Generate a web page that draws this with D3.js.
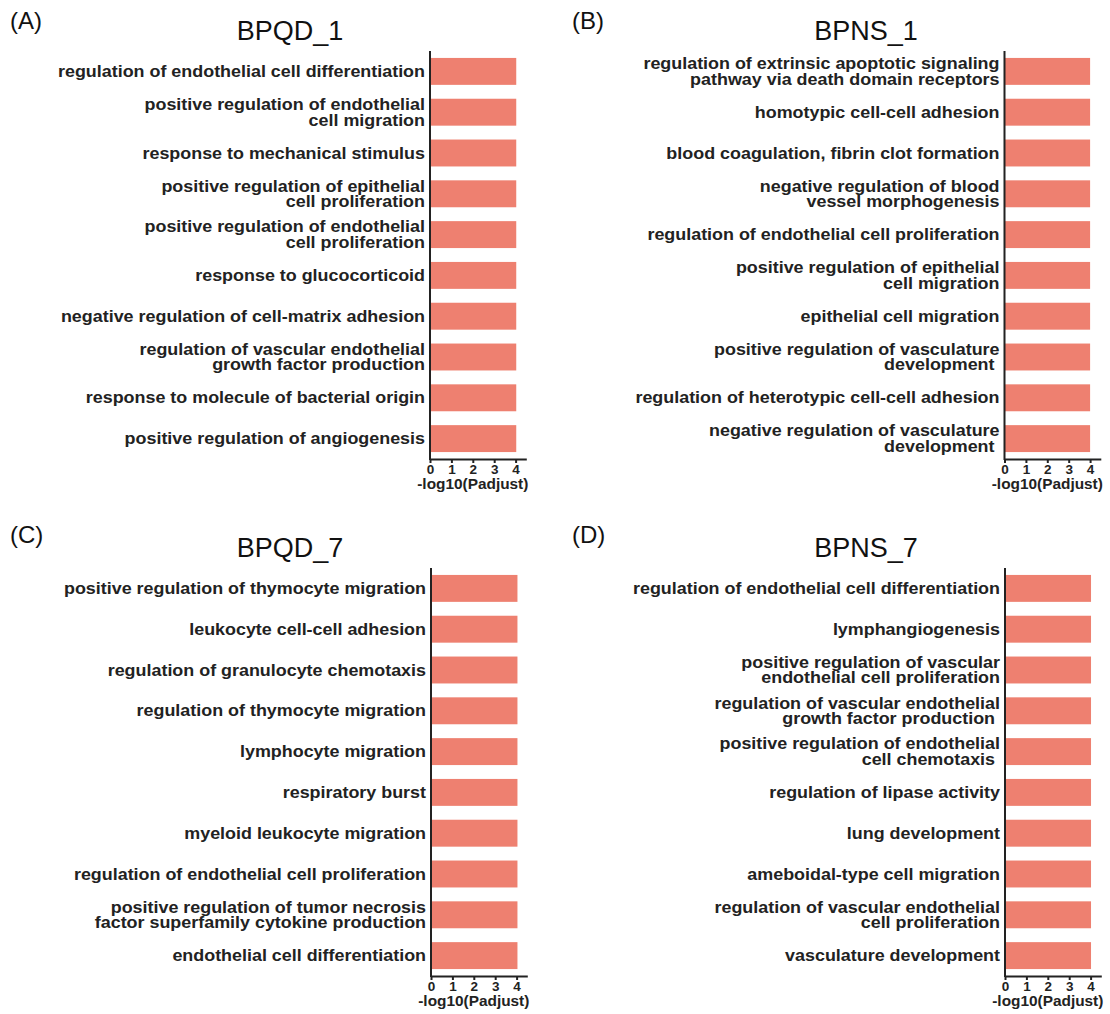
<!DOCTYPE html>
<html>
<head>
<meta charset="utf-8">
<script src="https://cdn.jsdelivr.net/npm/d3@7/dist/d3.min.js"></script>
<style>
  html, body { margin: 0; padding: 0; background: #fff; }
  svg { display: block; }
</style>
</head>
<body>
<svg id="chart" width="1110" height="1014"></svg>
<script>
// GO enrichment terms per cluster (top to bottom), "\n" marks a line break
const termsBPQD1 = [
  "regulation of endothelial cell differentiation",
  "positive regulation of endothelial\ncell migration",
  "response to mechanical stimulus",
  "positive regulation of epithelial\ncell proliferation",
  "positive regulation of endothelial\ncell proliferation",
  "response to glucocorticoid",
  "negative regulation of cell-matrix adhesion",
  "regulation of vascular endothelial\ngrowth factor production",
  "response to molecule of bacterial origin",
  "positive regulation of angiogenesis"
];
const termsBPNS1 = [
  "regulation of extrinsic apoptotic signaling\npathway via death domain receptors",
  "homotypic cell-cell adhesion",
  "blood coagulation, fibrin clot formation",
  "negative regulation of blood\nvessel morphogenesis",
  "regulation of endothelial cell proliferation",
  "positive regulation of epithelial\ncell migration",
  "epithelial cell migration",
  "positive regulation of vasculature\ndevelopment\u00a0",
  "regulation of heterotypic cell-cell adhesion",
  "negative regulation of vasculature\ndevelopment\u00a0"
];
const termsBPQD7 = [
  "positive regulation of thymocyte migration",
  "leukocyte cell-cell adhesion",
  "regulation of granulocyte chemotaxis",
  "regulation of thymocyte migration",
  "lymphocyte migration",
  "respiratory burst",
  "myeloid leukocyte migration",
  "regulation of endothelial cell proliferation",
  "positive regulation of tumor necrosis\nfactor superfamily cytokine production",
  "endothelial cell differentiation"
];
const termsBPNS7 = [
  "regulation of endothelial cell differentiation",
  "lymphangiogenesis",
  "positive regulation of vascular\nendothelial cell proliferation",
  "regulation of vascular endothelial\ngrowth factor production\u00a0",
  "positive regulation of endothelial\ncell chemotaxis\u00a0",
  "regulation of lipase activity",
  "lung development",
  "ameboidal-type cell migration",
  "regulation of vascular endothelial\ncell proliferation",
  "vasculature development"
];

// -log10(adjusted p) for each term, same order as above
const valuesBPQD1 = [4.03, 4.03, 4.03, 4.03, 4.03, 4.03, 4.03, 4.03, 4.03, 4.03];
const valuesBPNS1 = [4.0, 4.0, 4.0, 4.0, 4.0, 4.0, 4.0, 4.0, 4.0, 4.0];
const valuesBPQD7 = [4.04, 4.04, 4.04, 4.04, 4.04, 4.04, 4.04, 4.04, 4.04, 4.04];
const valuesBPNS7 = [4.02, 4.02, 4.02, 4.02, 4.02, 4.02, 4.02, 4.02, 4.02, 4.02];

const xTicks = [0, 1, 2, 3, 4];
const xDomain = [0, 4.5];
const xAxisTitle = "-log10(Padjust)";

const panelTags = ["(A)", "(B)", "(C)", "(D)"];
const panelTitles = ["BPQD_1", "BPNS_1", "BPQD_7", "BPNS_7"];

// ---- drawing ----
const BAR_COLOR = "#ee8070";
const INK = "#222";
const FONT = "'Liberation Sans', Arial, Helvetica, sans-serif";
const STRETCH = 1.12;   // bold term labels are set a little wide

const svg = d3.select("#chart");

const panels = [
  { tag: panelTags[0], title: panelTitles[0], terms: termsBPQD1, values: valuesBPQD1,
    x0: 430, top: 51, bottom: 459, tagX: 10, tagY: 29, titleX: 290, titleY: 40 },
  { tag: panelTags[1], title: panelTitles[1], terms: termsBPNS1, values: valuesBPNS1,
    x0: 1004.5, top: 51, bottom: 459, tagX: 572, tagY: 29, titleX: 866, titleY: 40 },
  { tag: panelTags[2], title: panelTitles[2], terms: termsBPQD7, values: valuesBPQD7,
    x0: 431, top: 568, bottom: 976, tagX: 10, tagY: 543, titleX: 290, titleY: 557 },
  { tag: panelTags[3], title: panelTitles[3], terms: termsBPNS7, values: valuesBPNS7,
    x0: 1005, top: 568, bottom: 976, tagX: 572, tagY: 543, titleX: 866, titleY: 557 }
];

const UNIT = 21.4; // px per unit of -log10(Padjust)

panels.forEach(p => {
  const g = svg.append("g");

  // panel tag and title
  g.append("text")
    .attr("x", p.tagX).attr("y", p.tagY)
    .attr("font-family", FONT).attr("font-size", 24)
    .attr("fill", "#111")
    .text(p.tag);
  g.append("text")
    .attr("x", p.titleX).attr("y", p.titleY)
    .attr("text-anchor", "middle")
    .attr("font-family", FONT).attr("font-size", 27)
    .attr("fill", "#111")
    .text(p.title);

  const x = d3.scaleLinear().domain(xDomain).range([p.x0, p.x0 + UNIT * xDomain[1]]);
  const y = d3.scaleBand().domain(p.terms).range([p.top, p.bottom])
    .paddingInner(0.34).paddingOuter(0.17);

  // bars
  g.selectAll("rect.bar")
    .data(p.terms.map((t, i) => ({ term: t, value: p.values[i] })))
    .join("rect")
    .attr("class", "bar")
    .attr("x", x(0))
    .attr("y", d => y(d.term))
    .attr("width", d => x(d.value) - x(0))
    .attr("height", y.bandwidth())
    .attr("fill", BAR_COLOR);

  // category labels (right aligned, possibly two lines)
  const LINE = 15.8;
  p.terms.forEach(t => {
    const lines = t.split("\n");
    const cy = y(t) + y.bandwidth() / 2;
    const firstBaseline = cy - (lines.length - 1) * LINE / 2 + 5.6;
    const txt = g.append("text")
      .attr("transform", `translate(${x(0) - 5},${firstBaseline}) scale(${STRETCH},1)`)
      .attr("text-anchor", "end")
      .attr("font-family", FONT).attr("font-weight", "bold").attr("font-size", 16)
      .attr("fill", INK)
      .style("white-space", "pre");
    lines.forEach((ln, i) => {
      txt.append("tspan").attr("x", 0).attr("y", i * LINE).text(ln);
    });
  });

  // y axis line
  g.append("line")
    .attr("x1", x(0)).attr("x2", x(0))
    .attr("y1", p.top).attr("y2", p.bottom + 1)
    .attr("stroke", INK).attr("stroke-width", 2);

  // x axis
  const xAxis = d3.axisBottom(x).tickValues(xTicks).tickSize(4).tickSizeOuter(0)
    .tickFormat(d3.format("d"));
  const ax = g.append("g")
    .attr("transform", `translate(0,${p.bottom})`)
    .call(xAxis);
  ax.select(".domain").attr("stroke", INK).attr("stroke-width", 2);
  ax.selectAll(".tick line").attr("stroke", INK).attr("stroke-width", 2);
  ax.selectAll(".tick text")
    .attr("y", 0).attr("dy", null)
    .attr("transform", "translate(0,14.6)")
    .attr("font-family", FONT).attr("font-weight", "bold").attr("font-size", 13.5)
    .attr("fill", INK);

  g.append("text")
    .attr("transform", `translate(${x(2)},${p.bottom + 30}) scale(1.1,1)`)
    .attr("text-anchor", "middle")
    .attr("font-family", FONT).attr("font-weight", "bold").attr("font-size", 14)
    .attr("fill", INK)
    .text(xAxisTitle);
});
</script>
</body>
</html>
